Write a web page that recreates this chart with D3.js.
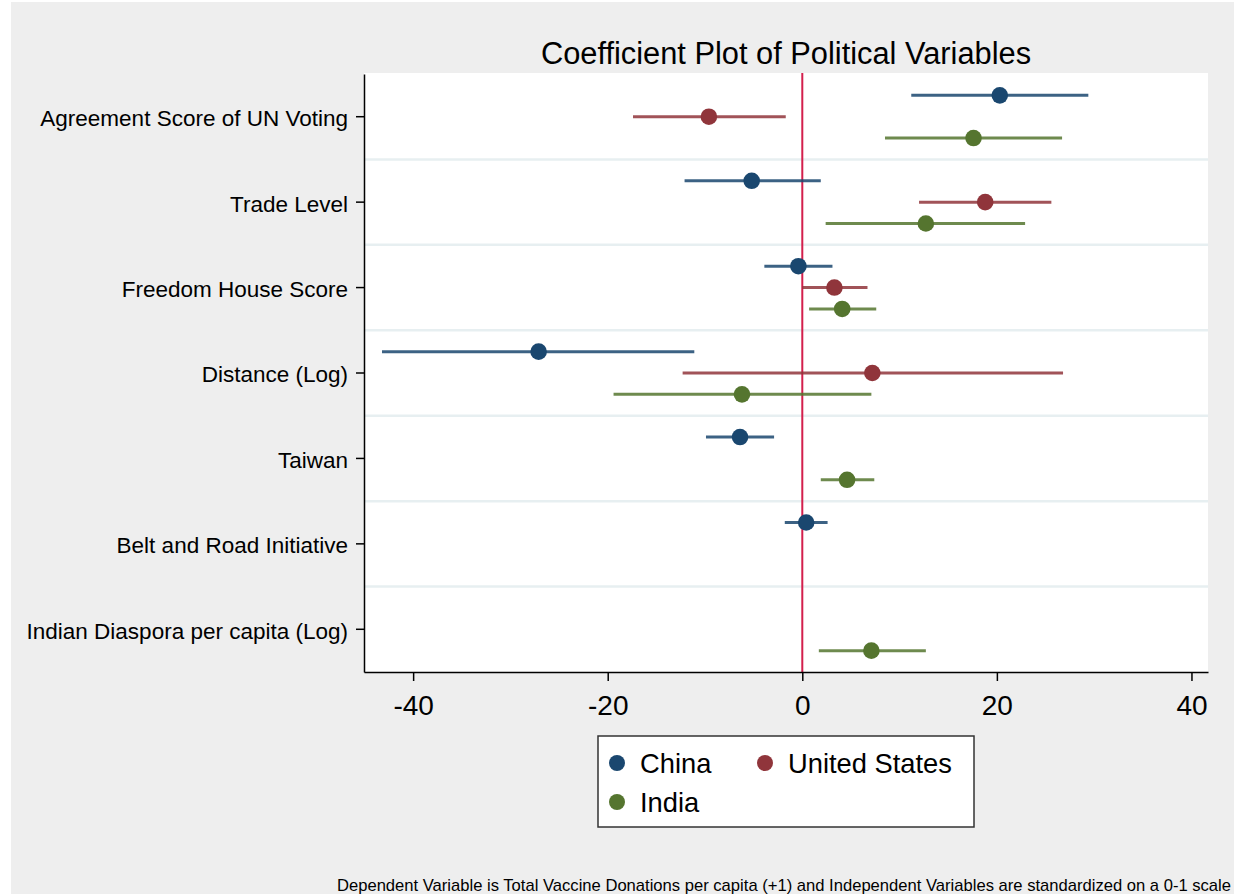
<!DOCTYPE html>
<html>
<head>
<meta charset="utf-8">
<script src="https://cdn.jsdelivr.net/npm/d3@7"></script>
<style>
  body { margin: 0; background: #ffffff; }
  svg { display: block; font-family: Arial, "Liberation Sans", sans-serif; }
</style>
</head>
<body>
<div id="chart"></div>
<script>
// Variables (rows, top to bottom)
var variables = ["Agreement Score of UN Voting", "Trade Level", "Freedom House Score",
  "Distance (Log)", "Taiwan", "Belt and Road Initiative", "Indian Diaspora per capita (Log)"];

// Donor countries (series)
var donors = ["China", "United States", "India"];
var donorColors = ["#1a476f", "#90353b", "#55752f"];

// Point estimates, one per variable (null = not in model)
var chinaCoef = [20.3, -5.2, -0.4, -27.1, -6.4, 0.4, null];
var usCoef = [-9.6, 18.8, 3.3, 7.2, null, null, null];
var indiaCoef = [17.6, 12.7, 4.1, -6.2, 4.6, null, 7.1];

// Confidence intervals (lower / upper)
var chinaLow = [11.2, -12.1, -3.9, -43.2, -9.9, -1.8, null];
var chinaHigh = [29.4, 1.9, 3.1, -11.1, -2.9, 2.6, null];
var usLow = [-17.4, 12.0, 0.0, -12.3, null, null, null];
var usHigh = [-1.7, 25.6, 6.7, 26.8, null, null, null];
var indiaLow = [8.5, 2.4, 0.7, -19.4, 1.9, null, 1.7];
var indiaHigh = [26.7, 22.9, 7.6, 7.1, 7.4, null, 12.7];

var xTicks = [-40, -20, 0, 20, 40];

var titleText = "Coefficient Plot of Political Variables";
var noteText = "Dependent Variable is Total Vaccine Donations per capita (+1) and Independent Variables are standardized on a 0-1 scale";

// Build rows from the arrays
var coefs = [chinaCoef, usCoef, indiaCoef];
var lows = [chinaLow, usLow, indiaLow];
var highs = [chinaHigh, usHigh, indiaHigh];
var rows = [];
donors.forEach(function (donor, s) {
  variables.forEach(function (v, i) {
    if (coefs[s][i] === null) return;
    rows.push({ donor: donor, s: s, variable: v, b: coefs[s][i], lo: lows[s][i], hi: highs[s][i] });
  });
});

// Sizes
var width = 1235, height = 894;
var plot = { left: 364, right: 1208, top: 74, bottom: 672 };

var svg = d3.select("#chart").append("svg")
    .attr("width", width)
    .attr("height", height);

// Outer graph background
svg.append("rect")
    .attr("x", 11).attr("y", 2)
    .attr("width", 1223).attr("height", 892)
    .attr("fill", "#eeeeee");

// Plot region
svg.append("rect")
    .attr("x", plot.left).attr("y", plot.top - 1)
    .attr("width", plot.right - plot.left).attr("height", plot.bottom - plot.top + 1)
    .attr("fill", "#ffffff");

// Scales
var x = d3.scaleLinear()
    .domain([-45.05, 41.7])
    .range([plot.left, plot.right]);

var y = d3.scaleBand()
    .domain(variables)
    .range([plot.top, plot.bottom])
    .padding(0);

var offset = d3.scalePoint()
    .domain(donors)
    .range([-y.bandwidth() / 4, y.bandwidth() / 4]);

var color = d3.scaleOrdinal().domain(donors).range(donorColors);

// Separators between variables
svg.append("g")
    .selectAll("line")
    .data(variables.slice(1))
    .enter().append("line")
    .attr("x1", plot.left).attr("x2", plot.right)
    .attr("y1", function (d) { return y(d); })
    .attr("y2", function (d) { return y(d); })
    .attr("stroke", "#e7eff1")
    .attr("stroke-width", 2.5);

// Zero reference line
svg.append("line")
    .attr("x1", x(0)).attr("x2", x(0))
    .attr("y1", plot.top - 1).attr("y2", plot.bottom)
    .attr("stroke", "#d31f4c")
    .attr("stroke-width", 2);

// Confidence intervals
svg.append("g")
    .selectAll("line")
    .data(rows)
    .enter().append("line")
    .attr("x1", function (d) { return x(d.lo); })
    .attr("x2", function (d) { return x(d.hi); })
    .attr("y1", function (d) { return y(d.variable) + y.bandwidth() / 2 + offset(d.donor); })
    .attr("y2", function (d) { return y(d.variable) + y.bandwidth() / 2 + offset(d.donor); })
    .attr("stroke", function (d) { return color(d.donor); })
    .attr("stroke-opacity", 0.85)
    .attr("stroke-width", 3);

// Point estimates
svg.append("g")
    .selectAll("circle")
    .data(rows)
    .enter().append("circle")
    .attr("cx", function (d) { return x(d.b); })
    .attr("cy", function (d) { return y(d.variable) + y.bandwidth() / 2 + offset(d.donor); })
    .attr("r", 8.3)
    .attr("fill", function (d) { return color(d.donor); });

// X axis
var xAxis = svg.append("g")
    .attr("transform", "translate(0," + plot.bottom + ")")
    .call(d3.axisBottom(x).tickValues(xTicks).tickSize(9).tickPadding(14).tickSizeOuter(0));
xAxis.select(".domain").attr("stroke", "#000").attr("stroke-width", 1.5);
xAxis.selectAll(".tick line").attr("stroke", "#000").attr("stroke-width", 1.5);
xAxis.selectAll("text")
    .attr("font-size", 28)
    .attr("fill", "#000")
    .text(function (d) { return d < 0 ? "-" + Math.abs(d) : d; });

// Y axis
var yAxis = svg.append("g")
    .attr("transform", "translate(" + plot.left + ",0)")
    .call(d3.axisLeft(y).tickSize(8).tickPadding(8).tickSizeOuter(0));
yAxis.select(".domain").attr("stroke", "#000").attr("stroke-width", 1.5);
yAxis.selectAll(".tick line").attr("stroke", "#000").attr("stroke-width", 1.5);
yAxis.selectAll("text")
    .attr("font-size", 22.5)
    .attr("dy", "0.42em")
    .attr("fill", "#000");

// Title
svg.append("text")
    .attr("x", 786).attr("y", 64)
    .attr("text-anchor", "middle")
    .attr("font-size", 30.8)
    .attr("fill", "#000")
    .text(titleText);

// Legend
var legend = svg.append("g").attr("transform", "translate(598,736)");
legend.append("rect")
    .attr("width", 376).attr("height", 91)
    .attr("fill", "#ffffff")
    .attr("stroke", "#333")
    .attr("stroke-width", 1.5);

var legendPos = [[19, 27], [167, 27], [19, 66]];
var items = legend.selectAll("g.item")
    .data(donors)
    .enter().append("g")
    .attr("class", "item")
    .attr("transform", function (d, i) { return "translate(" + legendPos[i][0] + "," + legendPos[i][1] + ")"; });
items.append("circle")
    .attr("r", 8)
    .attr("fill", function (d) { return color(d); });
items.append("text")
    .attr("x", 23).attr("y", 10)
    .attr("font-size", 27.3)
    .attr("fill", "#000")
    .text(function (d) { return d; });

// Note at the bottom
svg.append("text")
    .attr("x", 1231).attr("y", 891)
    .attr("text-anchor", "end")
    .attr("font-size", 16.6)
    .attr("fill", "#000")
    .text(noteText);
</script>
</body>
</html>
